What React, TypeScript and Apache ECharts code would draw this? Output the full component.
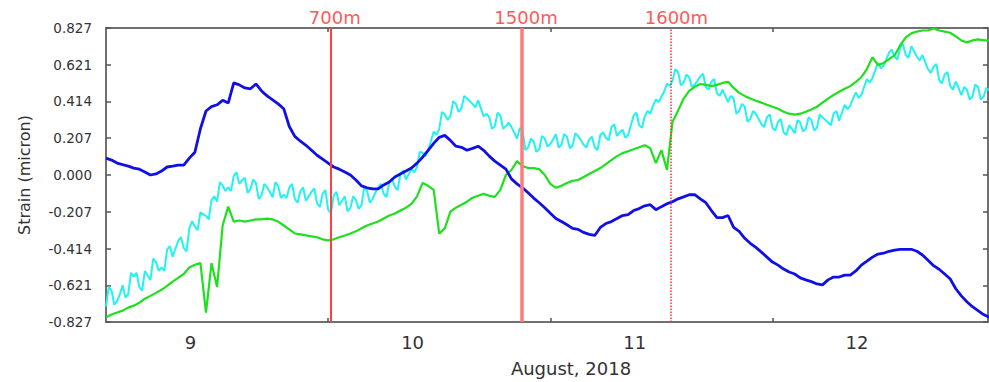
import React, { useEffect, useRef } from "react";
import * as echarts from "echarts";

// Time in days of August 2018
const times = [
  8.62, 8.645, 8.67, 8.695, 8.72, 8.745, 8.77, 8.795, 8.82, 8.845,
  8.87, 8.895, 8.92, 8.945, 8.97, 8.995, 9.02, 9.045, 9.07, 9.095,
  9.12, 9.145, 9.17, 9.195, 9.22, 9.245, 9.27, 9.295, 9.32, 9.345,
  9.37, 9.395, 9.42, 9.445, 9.47, 9.495, 9.52, 9.545, 9.57, 9.595,
  9.62, 9.645, 9.67, 9.695, 9.72, 9.745, 9.77, 9.795, 9.82, 9.845,
  9.87, 9.895, 9.92, 9.945, 9.97, 9.995, 10.02, 10.045, 10.07, 10.095,
  10.12, 10.145, 10.17, 10.195, 10.22, 10.245, 10.27, 10.295, 10.32, 10.345,
  10.37, 10.395, 10.42, 10.445, 10.47, 10.495, 10.52, 10.545, 10.57, 10.595,
  10.62, 10.645, 10.67, 10.695, 10.72, 10.745, 10.77, 10.795, 10.82, 10.845,
  10.87, 10.895, 10.92, 10.945, 10.97, 10.995, 11.02, 11.045, 11.07, 11.095,
  11.12, 11.145, 11.17, 11.195, 11.22, 11.245, 11.27, 11.295, 11.32, 11.345,
  11.37, 11.395, 11.42, 11.445, 11.47, 11.495, 11.52, 11.545, 11.57, 11.595,
  11.62, 11.645, 11.67, 11.695, 11.72, 11.745, 11.77, 11.795, 11.82, 11.845,
  11.87, 11.895, 11.92, 11.945, 11.97, 11.995, 12.02, 12.045, 12.07, 12.095,
  12.12, 12.145, 12.17, 12.195, 12.22, 12.245, 12.27, 12.295, 12.32, 12.345,
  12.37, 12.395, 12.42, 12.445, 12.47, 12.495, 12.52, 12.545, 12.57, 12.595,
];

const blueStrain = [
  0.095, 0.084, 0.067, 0.058, 0.05, 0.039, 0.033, 0.017, 0.0, 0.006,
  0.022, 0.045, 0.05, 0.056, 0.056, 0.095, 0.128, 0.26, 0.36, 0.385,
  0.395, 0.42, 0.405, 0.518, 0.507, 0.49, 0.485, 0.512, 0.473, 0.445,
  0.423, 0.4, 0.373, 0.273, 0.217, 0.19, 0.167, 0.139, 0.111, 0.089,
  0.067, 0.045, 0.033, 0.017, 0.0, -0.028, -0.061, -0.072, -0.078, -0.078,
  -0.056, -0.039, -0.011, 0.006, 0.022, 0.039, 0.067, 0.1, 0.139, 0.178,
  0.212, 0.223, 0.195, 0.162, 0.156, 0.139, 0.15, 0.162, 0.139, 0.106,
  0.078, 0.056, 0.033, -0.022, -0.05, -0.072, -0.1, -0.13, -0.156, -0.184,
  -0.215, -0.245, -0.262, -0.28, -0.3, -0.306, -0.323, -0.334, -0.34, -0.295,
  -0.273, -0.262, -0.245, -0.228, -0.223, -0.2, -0.189, -0.173, -0.167, -0.195,
  -0.178, -0.162, -0.15, -0.134, -0.123, -0.111, -0.111, -0.134, -0.156, -0.2,
  -0.24, -0.24, -0.228, -0.295, -0.317, -0.356, -0.384, -0.407, -0.434, -0.462,
  -0.49, -0.507, -0.529, -0.546, -0.557, -0.579, -0.59, -0.6, -0.613, -0.618,
  -0.59, -0.574, -0.574, -0.563, -0.563, -0.54, -0.507, -0.485, -0.462, -0.445,
  -0.44, -0.429, -0.423, -0.418, -0.418, -0.418, -0.429, -0.45, -0.48, -0.51,
  -0.53, -0.557, -0.585, -0.64, -0.68, -0.713, -0.741, -0.763, -0.785, -0.8,
];

const cyanStrain = [
  -0.74, -0.65, -0.71, -0.62, -0.67, -0.57, -0.63, -0.54, -0.59, -0.49,
  -0.52, -0.42, -0.46, -0.37, -0.41, -0.3, -0.29, -0.21, -0.23, -0.14,
  -0.15, -0.06, -0.07, -0.005, -0.05, -0.015, -0.08, -0.045, -0.115, -0.07,
  -0.125, -0.06, -0.11, -0.07, -0.135, -0.09, -0.145, -0.095, -0.16, -0.105,
  -0.195, -0.115, -0.17, -0.12, -0.185, -0.14, -0.17, -0.09, -0.135, -0.07,
  -0.105, -0.04, -0.065, 0.005, -0.025, 0.035, 0.045, 0.125, 0.14, 0.245,
  0.26, 0.34, 0.33, 0.4, 0.375, 0.43, 0.4, 0.42, 0.33, 0.325,
  0.275, 0.335, 0.275, 0.27, 0.205, 0.25, 0.155, 0.19, 0.145, 0.205,
  0.175, 0.23, 0.17, 0.215, 0.165, 0.22, 0.17, 0.2, 0.155, 0.225,
  0.21, 0.27, 0.22, 0.255, 0.225, 0.335, 0.28, 0.33, 0.345, 0.425,
  0.44, 0.515, 0.53, 0.58, 0.52, 0.55, 0.51, 0.555, 0.495, 0.525,
  0.46, 0.48, 0.41, 0.43, 0.36, 0.385, 0.315, 0.345, 0.285, 0.325,
  0.265, 0.3, 0.24, 0.28, 0.235, 0.295, 0.26, 0.31, 0.265, 0.325,
  0.295, 0.345, 0.305, 0.395, 0.39, 0.465, 0.45, 0.54, 0.545, 0.63,
  0.615, 0.69, 0.665, 0.72, 0.675, 0.725, 0.665, 0.675, 0.595, 0.61,
  0.535, 0.565, 0.5, 0.525, 0.45, 0.48, 0.44, 0.495, 0.44, 0.475,
];

// Cyan readings taken half-way between consecutive sample times
const cyanStrainMid = [
  -0.63, -0.73, -0.67, -0.69, -0.55, -0.55, -0.65, -0.565, -0.47, -0.54,
  -0.54, -0.4, -0.415, -0.35, -0.43, -0.26, -0.31, -0.22, -0.25, -0.12,
  -0.04, -0.09, -0.09, 0.015, -0.03, -0.1, -0.025, -0.135, -0.05, -0.095,
  -0.04, -0.13, -0.13, -0.05, -0.155, -0.07, -0.12, -0.075, -0.18, -0.085,
  -0.215, -0.095, -0.145, -0.205, -0.12, -0.19, -0.07, -0.155, -0.1, -0.05,
  -0.125, -0.02, -0.085, 0.025, 0.005, 0.015, 0.13, 0.105, 0.19, 0.225,
  0.355, 0.31, 0.415, 0.355, 0.445, 0.415, 0.38, 0.375, 0.345, 0.26,
  0.35, 0.26, 0.295, 0.24, 0.265, 0.14, 0.205, 0.13, 0.22, 0.16,
  0.2, 0.155, 0.23, 0.15, 0.235, 0.195, 0.155, 0.215, 0.14, 0.24,
  0.195, 0.285, 0.24, 0.21, 0.28, 0.35, 0.265, 0.36, 0.39, 0.41,
  0.47, 0.5, 0.595, 0.505, 0.565, 0.495, 0.53, 0.57, 0.48, 0.54,
  0.445, 0.445, 0.445, 0.345, 0.4, 0.3, 0.36, 0.315, 0.27, 0.34,
  0.25, 0.315, 0.225, 0.26, 0.31, 0.245, 0.325, 0.25, 0.34, 0.31,
  0.28, 0.36, 0.35, 0.37, 0.43, 0.435, 0.495, 0.52, 0.59, 0.6,
  0.65, 0.705, 0.65, 0.735, 0.66, 0.695, 0.645, 0.635, 0.575, 0.625,
  0.515, 0.58, 0.48, 0.49, 0.495, 0.425, 0.51, 0.425, 0.49,
];

const greenStrain = [
  -0.8, -0.785, -0.774, -0.763, -0.746, -0.735, -0.719, -0.696, -0.68, -0.663,
  -0.646, -0.624, -0.6, -0.579, -0.557, -0.52, -0.505, -0.496, -0.774, -0.496,
  -0.63, -0.284, -0.178, -0.262, -0.256, -0.262, -0.256, -0.25, -0.25, -0.245,
  -0.25, -0.262, -0.284, -0.306, -0.329, -0.334, -0.34, -0.345, -0.35, -0.362,
  -0.368, -0.362, -0.35, -0.34, -0.329, -0.317, -0.3, -0.284, -0.273, -0.262,
  -0.245, -0.228, -0.217, -0.2, -0.184, -0.162, -0.12, -0.045, -0.061, -0.084,
  -0.33, -0.3, -0.206, -0.184, -0.167, -0.15, -0.128, -0.117, -0.106, -0.117,
  -0.123, -0.084, 0.0, 0.028, 0.078, 0.05, 0.039, 0.039, 0.033, 0.0,
  -0.05, -0.072, -0.061, -0.045, -0.033, -0.028, -0.011, 0.006, 0.022, 0.039,
  0.061, 0.084, 0.106, 0.123, 0.134, 0.145, 0.156, 0.167, 0.15, 0.067,
  0.14, 0.028, 0.3, 0.362, 0.43, 0.473, 0.496, 0.512, 0.507, 0.5,
  0.507, 0.518, 0.524, 0.49, 0.462, 0.445, 0.43, 0.418, 0.407, 0.395,
  0.384, 0.373, 0.356, 0.345, 0.34, 0.345, 0.356, 0.368, 0.384, 0.407,
  0.43, 0.45, 0.468, 0.485, 0.5, 0.524, 0.55, 0.596, 0.663, 0.618,
  0.63, 0.652, 0.674, 0.73, 0.774, 0.797, 0.807, 0.813, 0.813, 0.824,
  0.813, 0.807, 0.8, 0.78, 0.757, 0.746, 0.757, 0.763, 0.757, 0.757,
];

const yTicks = [-0.827, -0.621, -0.414, -0.207, 0, 0.207, 0.414, 0.621, 0.827];
const dayLabels = [9, 10, 11, 12];
const dayTicks = [9.62, 10.62, 11.62];
const markerNames = ["700m", "1500m", "1600m"];
const markerTimes = [9.627, 10.488, 11.165];

const X_MIN = 8.62;
const X_MAX = 12.59;
const Y_MIN = -0.827;
const Y_MAX = 0.827;

const FONT = "DejaVu Sans";
const AXIS_COLOR = "#707070";
const TEXT_COLOR = "#333333";

const markerLineStyles = [
  { color: "#ff4040", width: 2, type: "solid" },
  { color: "#ff7a7a", width: 3.5, type: "solid" },
  { color: "#ff3030", width: 1.5, type: "dotted" },
];

const toPairs = (vals: number[]) => times.map((t, i) => [t, vals[i]]);

const cyanPairs = () => {
  const out: number[][] = [];
  times.forEach((t, i) => {
    out.push([t, cyanStrain[i]]);
    if (i < cyanStrainMid.length) out.push([(t + times[i + 1]) / 2, cyanStrainMid[i]]);
  });
  return out;
};

export default function App() {
  const ref = useRef<HTMLDivElement>(null);

  useEffect(() => {
    if (!ref.current) return;
    const chart = echarts.init(ref.current, undefined, { renderer: "svg" });

    const frameLine = { show: true, onZero: false, lineStyle: { color: AXIS_COLOR, width: 2 } };
    const tickStyle = { color: "#555", width: 1.5 };

    const option: any = {
      animation: false,
      backgroundColor: "#ffffff",
      textStyle: { fontFamily: FONT },
      grid: { left: 106, right: 1, top: 28, bottom: 57 },
      xAxis: [
        {
          type: "value",
          min: X_MIN,
          max: X_MAX,
          position: "bottom",
          axisLine: frameLine,
          axisTick: { show: true, inside: true, length: 4, customValues: dayTicks, lineStyle: tickStyle },
          axisLabel: {
            customValues: dayLabels,
            formatter: (v: number) => String(Math.round(v)),
            color: TEXT_COLOR,
            fontSize: 18,
            fontFamily: FONT,
            margin: 11,
          },
          splitLine: { show: false },
          name: "August, 2018",
          nameLocation: "middle",
          nameGap: 37,
          nameTextStyle: { fontSize: 18, color: TEXT_COLOR, fontFamily: FONT, padding: [0, 0, 0, 48] },
        },
        {
          type: "value",
          min: X_MIN,
          max: X_MAX,
          position: "top",
          axisLine: frameLine,
          axisTick: { show: true, inside: true, length: 4, customValues: dayTicks, lineStyle: tickStyle },
          axisLabel: { show: false },
          splitLine: { show: false },
        },
      ],
      yAxis: [
        {
          type: "value",
          min: Y_MIN,
          max: Y_MAX,
          position: "left",
          axisLine: frameLine,
          axisTick: { show: true, inside: true, length: 5, customValues: yTicks, lineStyle: tickStyle },
          axisLabel: {
            customValues: yTicks,
            formatter: (v: number) => v.toFixed(3),
            color: TEXT_COLOR,
            fontSize: 13.5,
            fontFamily: FONT,
            margin: 14,
          },
          splitLine: { show: false },
          name: "Strain (micron)",
          nameLocation: "middle",
          nameGap: 74,
          nameTextStyle: { fontSize: 16, color: TEXT_COLOR, fontFamily: FONT },
        },
        {
          type: "value",
          min: Y_MIN,
          max: Y_MAX,
          position: "right",
          axisLine: frameLine,
          axisTick: { show: true, inside: true, length: 5, customValues: yTicks, lineStyle: tickStyle },
          axisLabel: { show: false },
          splitLine: { show: false },
        },
      ],
      series: [
        {
          name: "cyan",
          type: "line",
          data: cyanPairs(),
          showSymbol: false,
          symbol: "none",
          lineStyle: { color: "#22f2f2", width: 2 },
          z: 2,
        },
        {
          name: "green",
          type: "line",
          data: toPairs(greenStrain),
          showSymbol: false,
          symbol: "none",
          lineStyle: { color: "#1ee01e", width: 2.2 },
          z: 3,
        },
        {
          name: "blue",
          type: "line",
          data: toPairs(blueStrain),
          showSymbol: false,
          symbol: "none",
          lineStyle: { color: "#1010e6", width: 2.8 },
          z: 4,
        },
        {
          name: "markers",
          type: "scatter",
          clip: false,
          symbol: "circle",
          symbolSize: 1,
          itemStyle: { color: "rgba(0,0,0,0)" },
          data: markerTimes.map((t, i) => ({ value: [t, Y_MAX], name: markerNames[i] })),
          label: {
            show: true,
            position: "top",
            distance: 1,
            offset: [5, 0],
            formatter: "{b}",
            color: "#ff2a2a",
            fontSize: 18,
            fontFamily: FONT,
          },
          markLine: {
            silent: true,
            symbol: ["none", "none"],
            label: { show: false },
            data: markerTimes.map((t, i) => ({ xAxis: t, lineStyle: markerLineStyles[i] })),
          },
          z: 5,
        },
      ],
    };

    chart.setOption(option);
    return () => chart.dispose();
  }, []);

  return (
    <div
      ref={ref}
      style={{ position: "fixed", left: 0, top: 0, width: 989, height: 382, background: "#fff" }}
    />
  );
}
